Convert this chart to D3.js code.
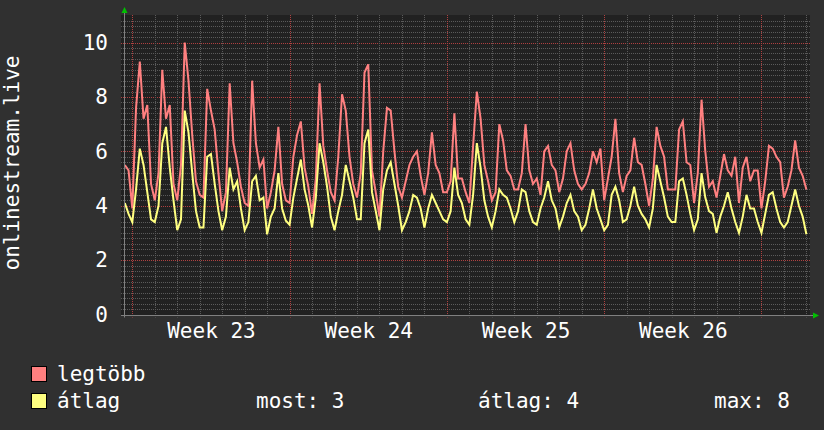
<!DOCTYPE html>
<html><head><meta charset="utf-8">
<script src="https://cdn.jsdelivr.net/npm/d3@7/dist/d3.min.js"></script>
<style>
html,body{margin:0;padding:0;background:#303030;}
svg{display:block;}
text{font-family:"DejaVu Sans Mono",monospace;fill:#ffffff;white-space:pre;}
</style></head><body>
<svg id="chart" width="824" height="430"></svg>
<script>
// ---- data ----
const yTitle = "onlinestream.live";
const weekLabels = ["Week 23", "Week 24", "Week 25", "Week 26"];
const weekStartDays = [0, 7, 14, 21, 28];      // Monday of each week (days from Monday week 23)
const yTicks = [0, 2, 4, 6, 8, 10];
const startDay = -1/3;   // first sample: Sunday 16:00
const stepDays = 1/6;    // one sample every 4 hours
const seriesNames = ["legtöbb", "átlag"];
const maxValues = [
5.5,5.3,3.9,7.6,9.3,7.2,7.7,4.8,4.2,5.2,9.0,7.2,7.7,4.8,4.2,5.5,10.0,8.6,6.6,4.9,
4.4,4.3,8.3,7.5,6.8,5.2,3.8,4.5,8.5,6.3,5.6,4.7,4.1,4.0,8.6,6.3,5.4,5.7,3.9,4.5,
5.3,6.9,4.8,4.2,4.1,5.8,6.6,7.1,5.4,4.7,3.7,5.0,8.5,6.2,5.3,4.5,4.2,5.8,8.1,7.5,
5.8,4.8,4.3,5.2,8.9,9.2,5.3,4.5,3.6,6.0,7.6,7.5,6.0,4.7,4.3,4.9,5.5,5.8,6.0,5.1,
4.4,5.2,6.7,5.5,5.2,4.5,4.5,4.9,7.4,5.0,5.0,4.5,4.1,6.2,8.2,7.2,5.5,4.9,4.2,4.5,
7.0,6.4,5.3,5.1,4.6,4.6,5.2,7.0,5.3,4.8,5.0,4.4,6.0,6.2,5.5,5.3,4.5,5.0,6.0,6.3,
5.3,4.8,4.6,4.8,5.2,6.0,5.6,6.1,4.2,5.0,5.8,7.2,5.2,4.5,5.1,5.3,6.5,5.6,5.5,4.8,
4.0,5.0,6.9,6.2,5.8,4.6,4.6,4.6,6.8,7.1,5.6,5.5,4.1,5.2,7.9,6.0,4.7,4.9,4.3,5.1,
5.9,5.3,5.1,5.8,4.1,5.4,5.8,4.9,5.3,5.3,3.9,4.9,6.2,6.1,5.8,5.6,4.3,4.7,5.3,6.4,
5.4,5.1,4.6
];
const avgValues = [
4.1,3.7,3.4,4.6,6.1,5.5,4.5,3.5,3.4,4.0,6.3,6.9,5.4,4.2,3.1,3.5,7.5,6.7,5.2,3.8,
3.2,3.2,5.8,5.9,4.8,3.8,3.1,3.6,5.4,4.6,4.9,3.9,3.1,3.4,4.9,5.1,4.2,4.3,2.95,3.6,
3.9,5.2,3.9,3.45,3.3,4.3,5.0,5.7,4.6,4.0,3.2,4.3,6.3,5.6,4.7,3.6,3.1,3.8,4.4,5.5,
4.9,4.3,3.5,3.5,6.3,6.8,4.5,3.8,3.1,4.6,5.3,5.6,4.8,4.0,3.1,3.4,3.8,4.4,4.3,3.9,
3.2,3.9,4.4,4.1,3.8,3.5,3.4,3.8,5.4,4.4,4.1,3.5,3.3,4.4,6.3,5.4,4.2,3.6,3.2,3.8,
4.6,4.4,4.3,3.9,3.4,3.8,4.6,4.5,3.8,3.4,3.3,3.9,4.3,4.9,4.2,3.9,3.2,3.6,4.1,4.4,
3.8,3.6,3.1,3.3,3.9,4.6,3.9,3.5,3.1,3.3,4.4,4.7,4.2,3.4,3.5,4.0,4.7,4.0,3.7,3.5,
3.2,3.9,5.5,4.9,4.3,3.6,3.4,3.4,4.9,5.0,4.4,3.7,3.1,3.5,5.2,4.3,3.8,3.7,3.0,3.6,
4.0,4.5,3.9,3.4,3.0,3.6,4.4,3.9,3.9,3.4,3.0,3.7,4.4,4.5,3.9,3.4,3.2,3.4,4.0,4.6,
4.0,3.6,2.95
];
const legendStats = [["most:", "3"], ["átlag:", "4"], ["max:", "8"]];
const seriesColors = ["#ff8080", "#ffff80"];

// ---- layout ----
const svg = d3.select("#chart");
const plotL = 124, plotR = 810, plotT = 15, plotB = 314.5;
const x = d3.scaleLinear().domain([-0.37, 30.16]).range([plotL, plotR]);
const y = d3.scaleLinear().domain([0, 11]).range([plotB, 15.4]);
const px = v => Math.round(v) + 0.5;
const FONT = '"DejaVu Sans Mono", monospace';

svg.append("rect").attr("width", 824).attr("height", 430).attr("fill", "#303030");
svg.append("rect").attr("x", 121).attr("y", plotT).attr("width", plotR - 121).attr("height", plotB - plotT + 1).attr("fill", "#212121");

// horizontal grid
const minorY = d3.range(1, 55).map(k => +(k * 0.2).toFixed(1)).filter(v => !yTicks.includes(v));
svg.append("g").selectAll("line").data(minorY).join("line")
  .attr("x1", 121).attr("x2", plotR).attr("y1", d => px(y(d))).attr("y2", d => px(y(d)))
  .attr("stroke", "#5a5a5a").attr("stroke-dasharray", "1,1");
svg.append("g").selectAll("line").data(yTicks.filter(v => v > 0)).join("line")
  .attr("x1", 121).attr("x2", plotR).attr("y1", d => px(y(d))).attr("y2", d => px(y(d)))
  .attr("stroke", "#b04040").attr("stroke-dasharray", "1,1");

// vertical grid
const days = d3.range(0, 31).filter(d => !weekStartDays.includes(d));
svg.append("g").selectAll("line").data(days).join("line")
  .attr("x1", d => px(x(d))).attr("x2", d => px(x(d))).attr("y1", plotT).attr("y2", plotB + 3)
  .attr("stroke", "#5a5a5a").attr("stroke-dasharray", "1,1");
svg.append("g").selectAll("line").data(weekStartDays).join("line")
  .attr("x1", d => px(x(d))).attr("x2", d => px(x(d))).attr("y1", plotT).attr("y2", plotB + 3)
  .attr("stroke", "#b04040").attr("stroke-dasharray", "1,1");

// series
const line = d3.line().x((d, i) => x(startDay + i * stepDays)).y(d => y(d));
[maxValues, avgValues].forEach((vals, k) => {
  svg.append("path").datum(vals).attr("d", line)
    .attr("fill", "none").attr("stroke", seriesColors[k]).attr("stroke-width", 2)
    .attr("stroke-linejoin", "miter");
});

// axes lines + arrows
svg.append("line").attr("x1", px(plotL)).attr("x2", px(plotL)).attr("y1", plotB + 3).attr("y2", 12)
  .attr("stroke", "#808080");
svg.append("line").attr("x1", 121).attr("x2", 814).attr("y1", px(plotB)).attr("y2", px(plotB))
  .attr("stroke", "#808080");
svg.append("path").attr("d", `M${px(plotL)-3},13 L${px(plotL)+3},13 L${px(plotL)},7 Z`).attr("fill", "#00c000");
svg.append("path").attr("d", `M813,${px(plotB)-3} L813,${px(plotB)+3} L819,${px(plotB)} Z`).attr("fill", "#00c000");

// y axis labels
const yAxis = svg.append("g").attr("transform", "translate(110,0)")
  .call(d3.axisLeft(y).tickValues(yTicks).tickSize(0).tickPadding(2).tickFormat(d3.format("d")));
yAxis.select(".domain").remove();
yAxis.selectAll("text").attr("font-size", 21).attr("fill", "#ffffff").style("font-family", FONT);

// x axis labels
const xAxis = svg.append("g").attr("transform", "translate(0,318)")
  .call(d3.axisBottom(x).tickValues(weekStartDays.slice(0, 4).map(d => d + 3.5))
    .tickSize(0).tickFormat((d, i) => weekLabels[i]));
xAxis.select(".domain").remove();
xAxis.selectAll("text").attr("font-size", 21).attr("fill", "#ffffff").attr("y", 20).attr("dy", 0)
  .style("font-family", FONT);

// y title
svg.append("text").attr("transform", "translate(19,163) rotate(-90)")
  .attr("text-anchor", "middle").attr("font-size", 21).text(yTitle);

// legend
const legY = [381, 408];
seriesNames.forEach((name, k) => {
  svg.append("rect").attr("x", 31.5).attr("y", legY[k] - 14.5).attr("width", 15).attr("height", 15)
    .attr("fill", seriesColors[k]).attr("stroke", "#000");
  svg.append("text").attr("x", 57).attr("y", legY[k]).attr("font-size", 21).text(name);
});
const statX = [256, 478, 714];
legendStats.forEach((s, k) => {
  svg.append("text").attr("x", statX[k]).attr("y", legY[1]).attr("font-size", 21).text(s[0] + " " + s[1]);
});
</script>
</body></html>
